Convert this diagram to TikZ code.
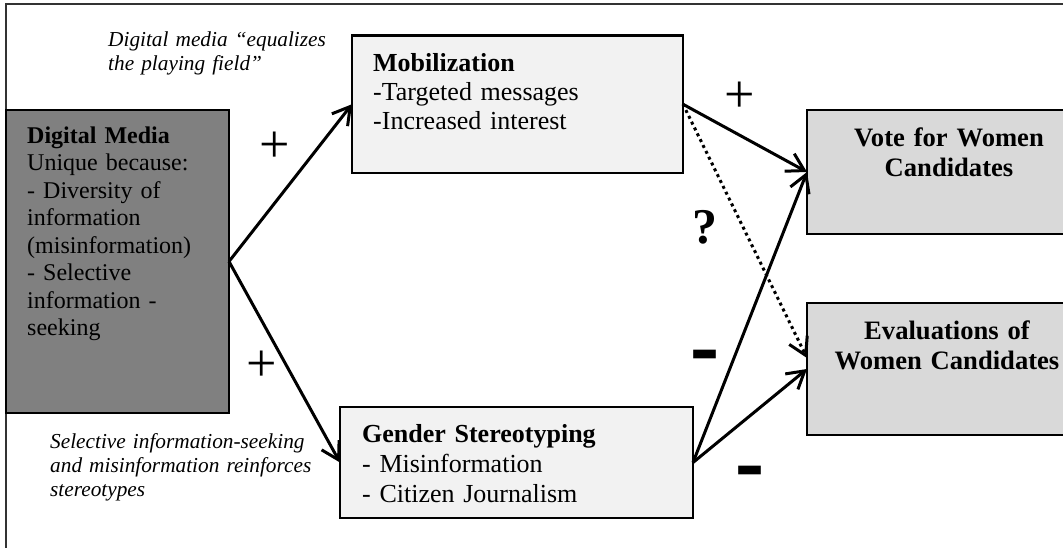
\documentclass[tikz,border=0pt]{standalone}
\usepackage{fontspec}
\setmainfont{Liberation Serif}
\usetikzlibrary{arrows.meta}
\definecolor{dmgray}{HTML}{808080}
\definecolor{lightbox}{HTML}{F2F2F2}
\definecolor{outbox}{HTML}{D9D9D9}
\definecolor{framegray}{HTML}{333333}
\begin{document}
\begin{tikzpicture}[x=1pt,y=-1pt,
  box/.style={draw=black, line width=2.4pt, inner sep=0pt, outer sep=0pt, anchor=north west},
  body/.style={anchor=base west, inner sep=0pt, align=left, text width=#1},
  ctext/.style={anchor=base, inner sep=0pt, align=center, text width=280pt,
    font=\fontsize{26.6}{29.5}\selectfont\bfseries},
  note/.style={anchor=base west, inner sep=0pt, align=left, text width=#1,
    font=\fontsize{21.3}{24.3}\selectfont\itshape},
  plussign/.style={inner sep=0pt, font=\fontsize{54}{54}\selectfont},
  qsign/.style={inner sep=0pt, font=\fontsize{50}{50}\selectfont\bfseries},
  minussign/.style={inner sep=0pt, font=\fontsize{60}{60}\selectfont\bfseries},
  conn/.style={line width=3pt, -{Straight Barb[length=17pt,width=20pt]}},
  dotline/.style={line width=3pt, dash pattern=on 3pt off 3.5pt}
]
\useasboundingbox (0,0) rectangle (1063,548);
\clip (0,0) rectangle (1063,548);

% outer frame (only top and left edges visible)
\coordinate (fbl) at (6,560);
\coordinate (ftl) at (6,4);
\coordinate (ftr) at (1075,4);
\draw[framegray, line width=2pt] (fbl) -- (ftl) -- (ftr);

% boxes
\node[box, fill=dmgray, minimum width=223pt, minimum height=303pt] (dm) at (6,110) {};
\node[box, fill=lightbox, minimum width=331pt, minimum height=137.5pt] (mob) at (352,35.5) {};
\node[box, fill=lightbox, minimum width=353pt, minimum height=111pt] (gen) at (340,407) {};
\node[box, fill=outbox, minimum width=288pt, minimum height=124pt] (vote) at (807,110) {};
\node[box, fill=outbox, minimum width=288pt, minimum height=132pt] (eval) at (807,303) {};

% box texts
\node[body=200pt, font=\fontsize{24}{27.5}\selectfont] (dmtext) at (27,143.5)
  {\textbf{Digital Media}\\Unique because:\\- Diversity of\\information\\(misinformation)\\- Selective\\information -\\seeking};
\node[body=300pt, font=\fontsize{26}{29}\selectfont] (mobtext) at (373,72)
  {\textbf{Mobilization}\\-Targeted messages\\-Increased interest};
\node[body=330pt, font=\fontsize{26}{30}\selectfont] (gentext) at (362,442)
  {\textbf{Gender Stereotyping}\\- Misinformation\\- Citizen Journalism};
\node[ctext] (votetext) at (949,147) {Vote for Women\\Candidates};
\node[ctext] (evaltext) at (947,339.5) {Evaluations of\\Women Candidates};

% italic notes
\node[note=260pt] (note1) at (108,46.5) {Digital media “equalizes\\the playing field”};
\node[note=290pt] (note2) at (50,448) {Selective information-seeking\\and misinformation reinforces\\stereotypes};

% connectors
\draw[conn] (dm.east) -- (mob.west);
\draw[conn] (dm.east) -- (gen.west);
\draw[conn] (mob.east) -- (vote.west);
\draw[conn, dotline] (mob.east) -- ([yshift=11pt]eval.west);
\draw[conn] (gen.east) -- (vote.west);
\draw[conn] (gen.east) -- (eval.west);

% signs
\node[plussign] (p1) at (275,147) {+};
\node[plussign] (p2) at (262,366) {+};
\node[plussign] (p3) at (740,97) {+};
\node[qsign] (q1) at (705,227) {?};
\node[minussign] (m1) at (705,364) {\scalebox{1.45}[1.7]{-}};
\node[minussign] (m2) at (750,480) {\scalebox{1.45}[1.7]{-}};
\end{tikzpicture}
\end{document}
